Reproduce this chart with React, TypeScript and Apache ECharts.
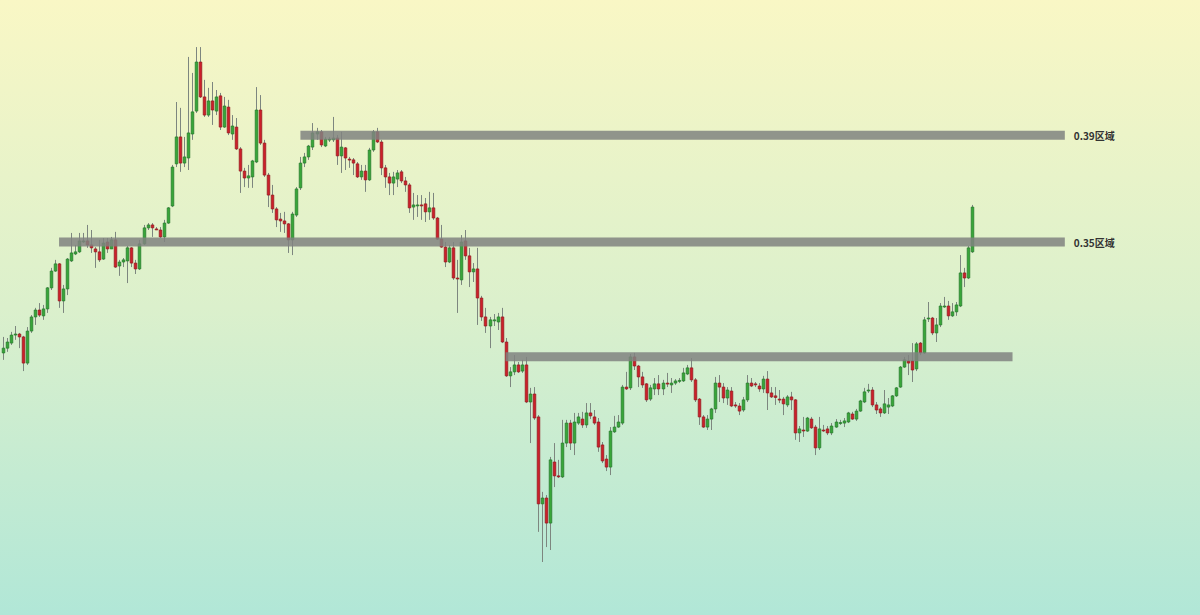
import React, { useEffect, useRef } from "react";
import * as echarts from "echarts";

// Candles: [open, close, low, high]
const candles: number[][] = [
  [0.3084, 0.3102, 0.3058, 0.3144], [0.3102, 0.3125, 0.3088, 0.3140], [0.3121, 0.3151, 0.3114, 0.3163], [0.3151, 0.3155, 0.3133, 0.3185],
  [0.3155, 0.3144, 0.3102, 0.3159], [0.3144, 0.3046, 0.3016, 0.3148], [0.3046, 0.3166, 0.3039, 0.3181], [0.3166, 0.3219, 0.3159, 0.3226],
  [0.3219, 0.3245, 0.3189, 0.3253], [0.3245, 0.3226, 0.3219, 0.3271], [0.3223, 0.3249, 0.3208, 0.3264], [0.3249, 0.3328, 0.3234, 0.3331],
  [0.3328, 0.3391, 0.3320, 0.3403], [0.3391, 0.3418, 0.3388, 0.3433], [0.3418, 0.3279, 0.3253, 0.3421], [0.3279, 0.3324, 0.3234, 0.3339],
  [0.3324, 0.3436, 0.3301, 0.3440], [0.3429, 0.3459, 0.3425, 0.3534], [0.3455, 0.3463, 0.3451, 0.3489], [0.3463, 0.3504, 0.3459, 0.3534],
  [0.3502, 0.3504, 0.3496, 0.3534], [0.3504, 0.3489, 0.3478, 0.3564], [0.3489, 0.3478, 0.3459, 0.3545], [0.3474, 0.3463, 0.3403, 0.3481],
  [0.3463, 0.3433, 0.3425, 0.3508], [0.3436, 0.3496, 0.3433, 0.3515], [0.3500, 0.3474, 0.3459, 0.3515], [0.3474, 0.3508, 0.3478, 0.3519],
  [0.3508, 0.3406, 0.3403, 0.3538], [0.3410, 0.3425, 0.3373, 0.3433], [0.3425, 0.3433, 0.3406, 0.3440], [0.3429, 0.3478, 0.3346, 0.3485],
  [0.3478, 0.3421, 0.3406, 0.3481], [0.3421, 0.3399, 0.3380, 0.3433], [0.3399, 0.3493, 0.3395, 0.3508], [0.3493, 0.3553, 0.3489, 0.3564],
  [0.3553, 0.3564, 0.3545, 0.3571], [0.3564, 0.3553, 0.3519, 0.3571], [0.3549, 0.3547, 0.3545, 0.3556], [0.3545, 0.3519, 0.3515, 0.3556],
  [0.3519, 0.3571, 0.3500, 0.3583], [0.3571, 0.3628, 0.3568, 0.3631], [0.3635, 0.3781, 0.3631, 0.3789], [0.3793, 0.3894, 0.3781, 0.4025],
  [0.3894, 0.3796, 0.3763, 0.4003], [0.3796, 0.3819, 0.3781, 0.3894], [0.3815, 0.3909, 0.3770, 0.4194], [0.3905, 0.3988, 0.3883, 0.4134],
  [0.3991, 0.4175, 0.3984, 0.4231], [0.4175, 0.4044, 0.4040, 0.4231], [0.4044, 0.3976, 0.3969, 0.4108], [0.3976, 0.4029, 0.3969, 0.4078],
  [0.4029, 0.3995, 0.3939, 0.4100], [0.3991, 0.4044, 0.3976, 0.4070], [0.4048, 0.3931, 0.3920, 0.4059], [0.3931, 0.4010, 0.3928, 0.4044],
  [0.4006, 0.3909, 0.3901, 0.4033], [0.3905, 0.3935, 0.3883, 0.3976], [0.3931, 0.3849, 0.3845, 0.3965], [0.3849, 0.3766, 0.3684, 0.3856],
  [0.3766, 0.3740, 0.3706, 0.3778], [0.3740, 0.3748, 0.3703, 0.3789], [0.3744, 0.3804, 0.3703, 0.3808], [0.3800, 0.3995, 0.3796, 0.4081],
  [0.3995, 0.3871, 0.3864, 0.4051], [0.3871, 0.3751, 0.3744, 0.3883], [0.3751, 0.3676, 0.3631, 0.3759], [0.3676, 0.3624, 0.3609, 0.3714],
  [0.3624, 0.3583, 0.3556, 0.3631], [0.3586, 0.3579, 0.3538, 0.3609], [0.3579, 0.3568, 0.3534, 0.3613], [0.3568, 0.3508, 0.3459, 0.3571],
  [0.3508, 0.3605, 0.3451, 0.3613], [0.3601, 0.3699, 0.3594, 0.3706], [0.3703, 0.3796, 0.3695, 0.3819], [0.3796, 0.3819, 0.3781, 0.3834],
  [0.3819, 0.3860, 0.3808, 0.3864], [0.3856, 0.3909, 0.3845, 0.3946], [0.3905, 0.3913, 0.3883, 0.3928], [0.3913, 0.3864, 0.3856, 0.3920],
  [0.3860, 0.3886, 0.3856, 0.3894], [0.3884, 0.3886, 0.3875, 0.3894], [0.3883, 0.3890, 0.3875, 0.3969], [0.3890, 0.3823, 0.3789, 0.3901],
  [0.3823, 0.3856, 0.3759, 0.3913], [0.3853, 0.3815, 0.3770, 0.3856], [0.3811, 0.3809, 0.3778, 0.3819], [0.3808, 0.3796, 0.3751, 0.3815],
  [0.3793, 0.3744, 0.3740, 0.3800], [0.3744, 0.3766, 0.3733, 0.3789], [0.3766, 0.3733, 0.3688, 0.3789], [0.3733, 0.3845, 0.3729, 0.3853],
  [0.3845, 0.3913, 0.3838, 0.3920], [0.3913, 0.3875, 0.3871, 0.3928], [0.3875, 0.3778, 0.3751, 0.3883], [0.3778, 0.3744, 0.3703, 0.3789],
  [0.3744, 0.3721, 0.3676, 0.3759], [0.3721, 0.3744, 0.3676, 0.3763], [0.3736, 0.3759, 0.3706, 0.3770], [0.3763, 0.3729, 0.3721, 0.3770],
  [0.3729, 0.3714, 0.3688, 0.3744], [0.3714, 0.3628, 0.3609, 0.3721], [0.3631, 0.3639, 0.3583, 0.3684], [0.3637, 0.3639, 0.3594, 0.3676],
  [0.3639, 0.3637, 0.3583, 0.3676], [0.3643, 0.3613, 0.3575, 0.3665], [0.3613, 0.3628, 0.3583, 0.3688], [0.3628, 0.3590, 0.3583, 0.3684],
  [0.3590, 0.3511, 0.3508, 0.3594], [0.3511, 0.3481, 0.3478, 0.3564], [0.3481, 0.3425, 0.3406, 0.3500], [0.3425, 0.3478, 0.3421, 0.3489],
  [0.3478, 0.3365, 0.3358, 0.3500], [0.3365, 0.3363, 0.3234, 0.3433], [0.3358, 0.3500, 0.3339, 0.3526], [0.3504, 0.3448, 0.3433, 0.3545],
  [0.3448, 0.3388, 0.3331, 0.3478], [0.3388, 0.3399, 0.3350, 0.3421], [0.3399, 0.3290, 0.3189, 0.3478], [0.3290, 0.3219, 0.3204, 0.3298],
  [0.3219, 0.3185, 0.3159, 0.3253], [0.3185, 0.3208, 0.3102, 0.3219], [0.3206, 0.3208, 0.3185, 0.3230], [0.3200, 0.3219, 0.3170, 0.3234],
  [0.3219, 0.3125, 0.3121, 0.3253], [0.3125, 0.2998, 0.2994, 0.3140], [0.2998, 0.3013, 0.2956, 0.3031], [0.3013, 0.3039, 0.3001, 0.3076],
  [0.3039, 0.3013, 0.3009, 0.3050], [0.3016, 0.3039, 0.3009, 0.3058], [0.3039, 0.2900, 0.2896, 0.3069], [0.2900, 0.2930, 0.2746, 0.2953],
  [0.2930, 0.2840, 0.2833, 0.2956], [0.2844, 0.2518, 0.2413, 0.2851], [0.2518, 0.2540, 0.2300, 0.2563], [0.2540, 0.2446, 0.2356, 0.2551],
  [0.2446, 0.2683, 0.2345, 0.2694], [0.2675, 0.2623, 0.2581, 0.2746], [0.2623, 0.2621, 0.2615, 0.2683], [0.2619, 0.2746, 0.2615, 0.2833],
  [0.2746, 0.2821, 0.2731, 0.2833], [0.2821, 0.2746, 0.2720, 0.2833], [0.2746, 0.2825, 0.2701, 0.2859], [0.2821, 0.2844, 0.2814, 0.2859],
  [0.2836, 0.2814, 0.2803, 0.2863], [0.2814, 0.2859, 0.2803, 0.2896], [0.2859, 0.2848, 0.2836, 0.2896], [0.2844, 0.2821, 0.2814, 0.2870],
  [0.2825, 0.2731, 0.2713, 0.2840], [0.2739, 0.2679, 0.2671, 0.2750], [0.2686, 0.2656, 0.2641, 0.2701], [0.2656, 0.2791, 0.2626, 0.2806],
  [0.2788, 0.2806, 0.2784, 0.2848], [0.2806, 0.2825, 0.2803, 0.2851], [0.2821, 0.2956, 0.2814, 0.2964], [0.2956, 0.2949, 0.2945, 0.3013],
  [0.2953, 0.3069, 0.2945, 0.3080], [0.3069, 0.3035, 0.3020, 0.3084], [0.3035, 0.2994, 0.2956, 0.3039], [0.2994, 0.2964, 0.2953, 0.3013],
  [0.2968, 0.2908, 0.2900, 0.2971], [0.2911, 0.2953, 0.2904, 0.2964], [0.2949, 0.2968, 0.2926, 0.2990], [0.2968, 0.2949, 0.2926, 0.3001],
  [0.2949, 0.2971, 0.2926, 0.2983], [0.2971, 0.2969, 0.2956, 0.3009], [0.2964, 0.2971, 0.2934, 0.2990], [0.2971, 0.2979, 0.2964, 0.2986],
  [0.2979, 0.2981, 0.2971, 0.2990], [0.2979, 0.3009, 0.2975, 0.3028], [0.3005, 0.3028, 0.3001, 0.3039], [0.3028, 0.2983, 0.2975, 0.3065],
  [0.2983, 0.2908, 0.2900, 0.2990], [0.2911, 0.2844, 0.2814, 0.2915], [0.2844, 0.2806, 0.2803, 0.2851], [0.2806, 0.2836, 0.2795, 0.2851],
  [0.2836, 0.2874, 0.2795, 0.2878], [0.2874, 0.2971, 0.2859, 0.2994], [0.2971, 0.2956, 0.2900, 0.3001], [0.2956, 0.2915, 0.2896, 0.2971],
  [0.2915, 0.2945, 0.2889, 0.2956], [0.2941, 0.2885, 0.2881, 0.2956], [0.2889, 0.2885, 0.2878, 0.2900], [0.2885, 0.2866, 0.2851, 0.2896],
  [0.2870, 0.2908, 0.2863, 0.2919], [0.2908, 0.2971, 0.2900, 0.3001], [0.2971, 0.2960, 0.2956, 0.2990], [0.2968, 0.2966, 0.2956, 0.2975],
  [0.2960, 0.2949, 0.2938, 0.2971], [0.2949, 0.2986, 0.2934, 0.2998], [0.2986, 0.2934, 0.2870, 0.3016], [0.2934, 0.2919, 0.2915, 0.2956],
  [0.2923, 0.2917, 0.2889, 0.2956], [0.2911, 0.2909, 0.2896, 0.2945], [0.2911, 0.2893, 0.2851, 0.2919], [0.2889, 0.2919, 0.2881, 0.2926],
  [0.2919, 0.2908, 0.2870, 0.2938], [0.2908, 0.2784, 0.2758, 0.2911], [0.2784, 0.2799, 0.2750, 0.2810], [0.2795, 0.2793, 0.2769, 0.2844],
  [0.2791, 0.2840, 0.2788, 0.2844], [0.2836, 0.2803, 0.2799, 0.2844], [0.2806, 0.2728, 0.2701, 0.2814], [0.2728, 0.2799, 0.2720, 0.2844],
  [0.2795, 0.2793, 0.2788, 0.2814], [0.2799, 0.2784, 0.2776, 0.2810], [0.2784, 0.2810, 0.2776, 0.2821], [0.2806, 0.2825, 0.2803, 0.2836],
  [0.2821, 0.2823, 0.2814, 0.2833], [0.2821, 0.2829, 0.2806, 0.2840], [0.2825, 0.2859, 0.2821, 0.2863], [0.2855, 0.2836, 0.2833, 0.2863],
  [0.2836, 0.2866, 0.2829, 0.2874], [0.2866, 0.2904, 0.2863, 0.2908], [0.2900, 0.2938, 0.2896, 0.2953], [0.2943, 0.2945, 0.2934, 0.2968],
  [0.2945, 0.2889, 0.2881, 0.2956], [0.2889, 0.2870, 0.2855, 0.2900], [0.2874, 0.2859, 0.2844, 0.2881], [0.2859, 0.2893, 0.2855, 0.2945],
  [0.2881, 0.2889, 0.2855, 0.2915], [0.2885, 0.2923, 0.2881, 0.2926], [0.2923, 0.2953, 0.2919, 0.2956], [0.2956, 0.3031, 0.2953, 0.3035],
  [0.3031, 0.3058, 0.3028, 0.3069], [0.3054, 0.3046, 0.3001, 0.3076], [0.3054, 0.3020, 0.2975, 0.3121], [0.3024, 0.3118, 0.3016, 0.3125],
  [0.3121, 0.3084, 0.3076, 0.3125], [0.3084, 0.3208, 0.3080, 0.3219], [0.3213, 0.3215, 0.3200, 0.3275], [0.3215, 0.3159, 0.3151, 0.3219],
  [0.3159, 0.3189, 0.3125, 0.3215], [0.3189, 0.3260, 0.3181, 0.3271], [0.3258, 0.3260, 0.3253, 0.3294], [0.3260, 0.3223, 0.3208, 0.3279],
  [0.3223, 0.3238, 0.3219, 0.3271], [0.3238, 0.3264, 0.3223, 0.3275], [0.3260, 0.3384, 0.3256, 0.3451], [0.3384, 0.3365, 0.3331, 0.3403],
  [0.3365, 0.3478, 0.3361, 0.3485], [0.3463, 0.3631, 0.3459, 0.3639],
];

// Horizontal zones
const levelPrices = [0.39, 0.35, 0.307];
const levelStart = [74, 14, 125];
const levelEnd = [264, 264, 251];
const levelLabels = ["0.39区域", "0.35区域", ""];

const SLOT_COUNT = 298;
const slots = Array.from({ length: SLOT_COUNT }, (_, i) => String(i));

export default function App() {
  const ref = useRef<HTMLDivElement>(null);

  useEffect(() => {
    if (!ref.current) return;
    const chart = echarts.init(ref.current, undefined, { renderer: "svg" });

    const renderItem = (params: any, api: any) => {
      const idx = api.value(0);
      const o = api.value(1);
      const c = api.value(2);
      const l = api.value(3);
      const h = api.value(4);
      const pO = api.coord([idx, o]);
      const pC = api.coord([idx, c]);
      const pL = api.coord([idx, l]);
      const pH = api.coord([idx, h]);
      const cx = Math.round(pO[0]);
      const up = c >= o;
      const top = Math.min(pO[1], pC[1]);
      const height = Math.max(1, Math.abs(pO[1] - pC[1]));
      return {
        type: "group",
        children: [
          {
            type: "line",
            shape: { x1: cx + 0.5, y1: pH[1], x2: cx + 0.5, y2: pL[1] },
            style: { stroke: "#7d867f", lineWidth: 1 },
          },
          {
            type: "rect",
            shape: { x: cx - 0.8, y: top, width: 2.6, height },
            style: {
              fill: up ? "#38a638" : "#cd1f2a",
              stroke: up ? "#23772a" : "#92171d",
              lineWidth: 0.7,
            },
          },
        ],
      };
    };

    const levelSeries = levelPrices.map((p, k) => ({
      type: "line",
      data: [
        [levelStart[k], p],
        [levelEnd[k], p],
      ],
      symbol: "none",
      silent: true,
      z: 5,
      lineStyle: { width: 9, color: "rgba(128,131,128,0.85)", cap: "butt" },
      endLabel: {
        show: levelLabels[k] !== "",
        formatter: levelLabels[k],
        distance: 9,
        color: "#333333",
        fontSize: 10,
        fontWeight: "bold",
        fontFamily: "Noto Sans CJK SC",
      },
    }));

    chart.setOption({
      animation: false,
      backgroundColor: {
        type: "linear",
        x: 0,
        y: 0,
        x2: 0,
        y2: 1,
        colorStops: [
          { offset: 0, color: "#f9f7c5" },
          { offset: 0.5, color: "#dbf0cc" },
          { offset: 1, color: "#b1e7d7" },
        ],
      },
      grid: { left: 0.7, right: 0.4, top: 0, bottom: 0 },
      xAxis: {
        type: "category",
        data: slots,
        boundaryGap: true,
        show: false,
      },
      yAxis: {
        type: "value",
        min: 0.210125,
        max: 0.44075,
        show: false,
        splitLine: { show: false },
      },
      series: [
        {
          type: "custom",
          renderItem,
          data: candles.map((c, i) => [i, c[0], c[1], c[2], c[3]]),
          encode: { x: 0, y: [1, 2, 3, 4] },
          z: 2,
          clip: false,
        },
        ...levelSeries,
      ],
    });

    return () => chart.dispose();
  }, []);

  return (
    <div style={{ position: "fixed", left: 0, top: 0, width: 1200, height: 615 }}>
      <div ref={ref} style={{ width: 1200, height: 615 }} />
    </div>
  );
}
